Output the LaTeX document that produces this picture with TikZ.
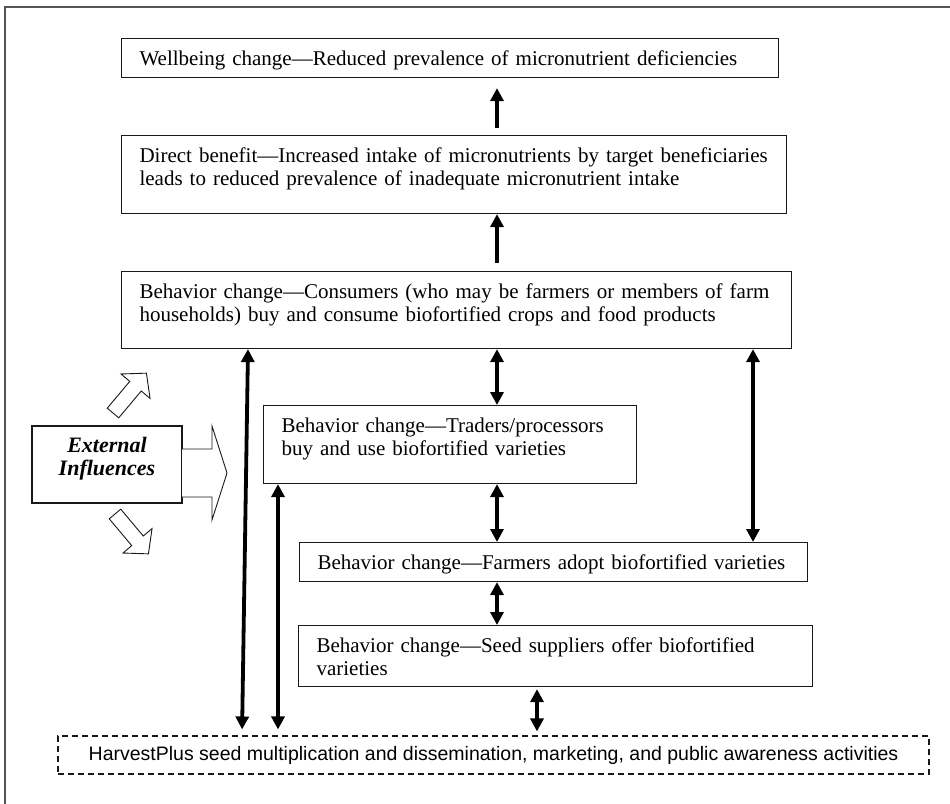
\documentclass[tikz,border=0pt]{standalone}
\usepackage{fontspec}
\setmainfont{Liberation Serif}
\newfontfamily\harvestfont{Liberation Sans}
\usepackage{tikz}
\usetikzlibrary{arrows.meta}
\definecolor{framegray}{RGB}{85,85,85}
\definecolor{boxline}{RGB}{25,25,25}
\newcommand{\stagefont}{\fontsize{21}{23}\selectfont}

\begin{document}
\begin{tikzpicture}[
    x=1pt, y=-1pt,
    stage/.style={rectangle, draw=boxline, line width=1.1pt, anchor=north west, align=left, inner xsep=18pt, inner ysep=12pt, text height=15pt, font=\stagefont},
    influence/.style={rectangle, draw=boxline, line width=1.1pt, minimum width=150pt, minimum height=77pt, text width=134pt, align=center, inner xsep=8pt, inner ysep=0pt, text height=15pt, text depth=40pt, font=\bfseries\itshape\fontsize{22}{23}\selectfont},
    harvestbox/.style={rectangle, draw=boxline, line width=1.1pt, dash pattern=on 6pt off 4pt, minimum width=871pt, minimum height=38pt, font=\harvestfont\fontsize{19.5}{22}\selectfont},
    blockarrow/.style={draw=boxline, line width=0.9pt, fill=white, line join=miter},
    arrow/.style={-{Triangle[length=13pt, width=13pt]}, line width=4.2pt},
    dblarrow/.style={{Triangle[length=13pt, width=13pt]}-{Triangle[length=13pt, width=13pt]}, line width=3.8pt}
]
\useasboundingbox (0,0) rectangle (950,803);
\draw[framegray, line width=1.6pt] (5,7) rectangle (990,840);

% result chain
\node[stage, text width=621pt, text depth=0pt] (wellbeing) at (121,38) {Wellbeing change—Reduced prevalence of micronutrient deficiencies};

\node[stage, text width=629pt, text depth=39pt] (benefit) at (121,135) {Direct benefit—Increased intake of micronutrients by target beneficiaries\\leads to reduced prevalence of inadequate micronutrient intake};

\node[stage, text width=634pt, text depth=38pt] (consumers) at (121,271) {Behavior change—Consumers (who may be farmers or members of farm\\households) buy and consume biofortified crops and food products};

\node[stage, text width=337pt, text depth=39pt] (traders) at (263,405) {Behavior change—Traders/processors\\buy and use biofortified varieties};

\node[stage, text width=472pt, text depth=0pt] (farmers) at (299,542) {Behavior change—Farmers adopt biofortified varieties};

\node[stage, text width=478pt, text depth=22pt] (seed) at (298,625) {Behavior change—Seed suppliers offer biofortified\\varieties};

\node[harvestbox] (harvest) at (493.5,755) {HarvestPlus seed multiplication and dissemination, marketing, and public awareness activities};

\node[influence] (ext) at (107,464.5) {External\\Influences};

% block arrows round the external influences
\draw[blockarrow, shift={(182,473)}] (0,-24) -- (30,-24) -- (30,-47) -- (45,0) -- (30,47) -- (30,24) -- (0,24);
\draw[blockarrow, shift={(113,413)}, rotate=50] (0,-7.5) -- (35,-7.5) -- (35,-19) -- (52,0) -- (35,19) -- (35,7.5) -- (0,7.5) -- cycle;
\draw[blockarrow, shift={(115,514)}, rotate=-50] (0,-7.5) -- (35,-7.5) -- (35,-19) -- (52,0) -- (35,19) -- (35,7.5) -- (0,7.5) -- cycle;

% connector columns
\coordinate (midx) at (497,0);
\coordinate (rightx) at (753,0);
\coordinate (seedx) at (537,0);
\coordinate (longtop) at (248,0);
\coordinate (longbot) at (242,0);
\coordinate (tradex) at (278,0);

\draw[arrow, shorten <=7pt, shorten >=10pt] (benefit.north -| midx) -- (wellbeing.south -| midx);
\draw[arrow, shorten <=8pt] (consumers.north -| midx) -- (benefit.south -| midx);
\draw[dblarrow] (consumers.south -| midx) -- (traders.north -| midx);
\draw[dblarrow] (traders.south -| midx) -- (farmers.north -| midx);
\draw[dblarrow] (farmers.south -| midx) -- (seed.north -| midx);
\draw[dblarrow] (consumers.south -| rightx) -- (farmers.north -| rightx);
\draw[dblarrow, shorten <=2pt, shorten >=4pt] (seed.south -| seedx) -- (harvest.north -| seedx);
\draw[dblarrow, shorten >=6pt] (consumers.south -| longtop) -- (harvest.north -| longbot);
\draw[dblarrow, shorten >=6pt] (traders.south -| tradex) -- (harvest.north -| tradex);
\end{tikzpicture}
\end{document}
